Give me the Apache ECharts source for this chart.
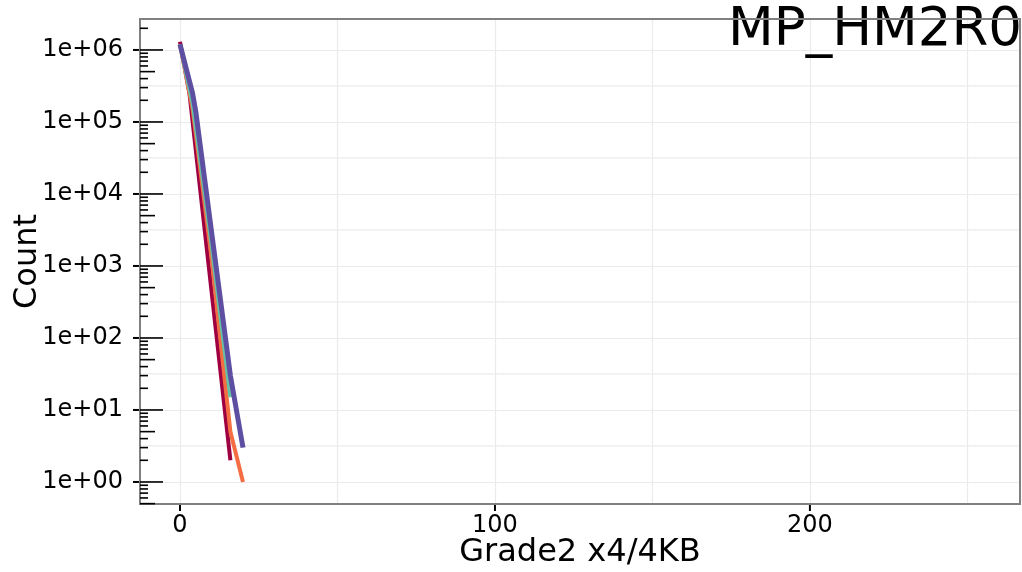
<!DOCTYPE html>
<html><head><meta charset="utf-8">
<script src="https://cdn.jsdelivr.net/npm/echarts@6/dist/echarts.min.js"></script>
<style>html,body{margin:0;padding:0;background:#fff}#c{width:1022px;height:572px}</style>
</head><body><div id="c"></div>
<script>
// ---- data ----
const seriesNames = ['A', 'B', 'C', 'D'];
const seriesColors = ['#9E0142', '#F46D43', '#66C2A5', '#5E4FA2'];
const seriesA = [[0, 1.3e6], [3, 2.5e5], [16, 2]];
const seriesB = [[0, 1.2e6], [4, 1.5e5], [10, 1300], [16, 5], [20, 1]];
const seriesC = [[0, 1.2e6], [4, 1.8e5], [10, 2000], [16, 15]];
const seriesD = [[0, 1.2e6], [4, 2.5e5], [5, 1.4e5], [16, 30], [20, 3]];
const xTickLabels = [0, 100, 200];
const yTickLabels = [1, 10, 100, 1000, 10000, 100000, 1000000];
const yDecades = [-1, 0, 1, 2, 3, 4, 5, 6];
const logMantissas = [1, 2, 3, 4, 5, 6, 7, 8, 9];
const yHalfDecades = [0.5, 1.5, 2.5, 3.5, 4.5, 5.5];
const titleText = 'MP_HM2R0';
const xTitle = 'Grade2 x4/4KB';
const yTitle = 'Count';

// ---- layout ----
const xMin = -12.7, xMax = 266.7;
const yMin = Math.pow(10, -0.306), yMax = Math.pow(10, 6.43);
const FONT = 'DejaVu Sans';

const logTicks = [];
yDecades.forEach(d => logMantissas.forEach(m => {
  const v = m * Math.pow(10, d);
  if (v >= yMin && v <= yMax) logTicks.push([xMin, v, m]);
}));
const halfLines = yHalfDecades.map(h => [xMin, Math.pow(10, h)]);

function fmtY(v) {
  const l = Math.log10(v), e = Math.round(l);
  if (Math.abs(l - e) > 1e-6) return '';
  return '1e' + (e < 0 ? '-' : '+') + String(Math.abs(e)).padStart(2, '0');
}

const chart = echarts.init(document.getElementById('c'), null, {renderer: 'canvas'});
const dataSets = [seriesA, seriesB, seriesC, seriesD];
const widths = [4, 4, 4, 5];

chart.setOption({
  animation: false,
  backgroundColor: '#fff',
  title: {
    text: titleText, right: -5, top: 0, z: 0,
    textStyle: {fontFamily: FONT, fontSize: 53, fontWeight: 'normal', color: '#000'}
  },
  grid: {left: 140, top: 19, width: 880, height: 485, show: true, borderColor: '#808080', borderWidth: 2,
    backgroundColor: 'transparent', containLabel: false, outerBoundsMode: 'none', z: 5},
  xAxis: {
    type: 'value', min: xMin, max: xMax, splitNumber: 5,
    axisLine: {show: false, onZero: false}, axisTick: {show: false},
    splitLine: {show: true, lineStyle: {color: '#EBEBEB', width: 1.2}},
    axisLabel: {fontFamily: FONT, fontSize: 24, color: '#000', margin: 10, showMinLabel: false, showMaxLabel: false,
      formatter: v => (xTickLabels.indexOf(v) >= 0 ? String(v) : '')},
    name: xTitle, nameLocation: 'middle', nameGap: 33, nameMoveOverlap: false,
    nameTextStyle: {fontFamily: FONT, fontSize: 32, color: '#000'}
  },
  yAxis: {
    type: 'log', logBase: 10, min: yMin, max: yMax,
    axisLine: {show: false, onZero: false},
    axisTick: {show: false},
    splitLine: {show: true, lineStyle: {color: '#EBEBEB', width: 1.2}},
    axisLabel: {fontFamily: FONT, fontSize: 24, color: '#000', margin: 17, formatter: fmtY,
      showMinLabel: false, showMaxLabel: false},
    name: yTitle, nameLocation: 'middle', nameGap: 96, nameMoveOverlap: false,
    nameTextStyle: {fontFamily: FONT, fontSize: 32, color: '#000'}
  },
  series: [
    {
      type: 'custom', silent: true, z: 1, data: halfLines,
      renderItem: (params, api) => {
        const v = api.value(1);
        const a = api.coord([xMin, v]), b = api.coord([xMax, v]);
        return {type: 'line', shape: {x1: a[0], y1: a[1], x2: b[0], y2: b[1]},
          style: {stroke: '#EBEBEB', lineWidth: 1.2}};
      }
    },
    ...dataSets.map((d, i) => ({
      name: seriesNames[i], type: 'line', data: d, showSymbol: false, z: 3 + i,
      lineStyle: {color: seriesColors[i], width: widths[i]}, itemStyle: {color: seriesColors[i]}
    })),
    {
      type: 'custom', silent: true, z: 10, data: logTicks,
      renderItem: (params, api) => {
        const v = api.value(1), m = api.value(2);
        const p = api.coord([xMin, v]);
        const len = m === 1 ? 23 : (m === 5 ? 15 : 8);
        return {type: 'line', shape: {x1: p[0], y1: p[1], x2: p[0] + len, y2: p[1]},
          style: {stroke: '#000', lineWidth: 1.6}};
      }
    },
    {
      type: 'custom', silent: true, z: 10, clip: false,
      data: yTickLabels.map(v => [xMin, v]),
      renderItem: (params, api) => {
        const p = api.coord([xMin, api.value(1)]);
        return {type: 'line', shape: {x1: p[0] - 7, y1: p[1], x2: p[0] - 1, y2: p[1]},
          style: {stroke: '#000', lineWidth: 2}};
      }
    },
    {
      type: 'custom', silent: true, z: 10, clip: false,
      data: xTickLabels.map(v => [v, yMin]),
      renderItem: (params, api) => {
        const p = api.coord([api.value(0), yMin]);
        return {type: 'line', shape: {x1: p[0], y1: p[1] + 1, x2: p[0], y2: p[1] + 7},
          style: {stroke: '#000', lineWidth: 2}};
      }
    }
  ]
});
</script></body></html>
